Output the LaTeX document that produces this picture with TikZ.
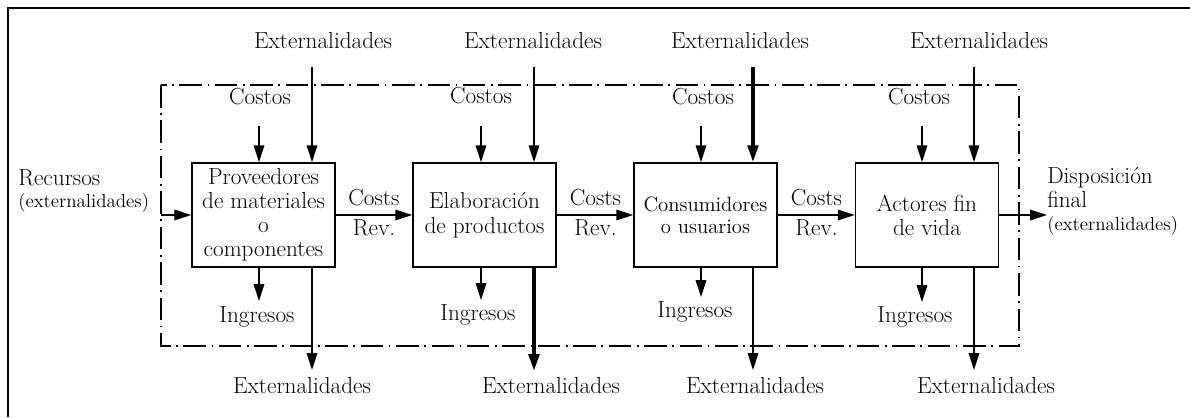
\documentclass[tikz,border=0pt]{standalone}
\usepackage{tikz}
\usetikzlibrary{arrows.meta}

\begin{document}
\begin{tikzpicture}[x=0.025cm, y=-0.025cm,
    txt/.style={font=\fontsize{16.5pt}{17pt}\selectfont, inner sep=0pt},
    small/.style={font=\fontsize{13.5pt}{15pt}\selectfont, inner sep=0pt},
    stage/.style={draw, line width=1.1pt, minimum width=3.575cm, minimum height=2.6cm, align=center, font=\fontsize{16.5pt}{17pt}\selectfont},
    arr/.style={-{Triangle[length=12pt,width=7.5pt]}, line width=1pt},
    heavy/.style={arr, line width=2.6pt}]
        \useasboundingbox (0,0) rectangle (1190,417);
        \draw [line width=1.4pt] (8,417) -- (8,8) -- (1190,8);
        \draw [line width=0.9pt, dash pattern=on 16pt off 4pt on 1.2pt off 4pt] (161,85) rectangle (1019,346);
        % the four stages
        \node (b1) at (263.5, 215) [stage] {Proveedores\\de materiales\\o\\componentes};
        \node (b2) at (484.5, 215) [stage, font=\fontsize{16.5pt}{18pt}\selectfont] {Elaboraci\'on\\de productos};
        \node (b3) at (705.5, 215) [stage, font=\fontsize{14.7pt}{15.5pt}\selectfont] {Consumidores\\o usuarios};
        \node (b4) at (927, 215) [stage] {Actores fin\\de vida};
        % labels above
        \node (et1) at (323, 48) [txt, anchor=base] {Externalidades};
        \node (et2) at (533, 48) [txt, anchor=base] {Externalidades};
        \node (et3) at (740, 48) [txt, anchor=base] {Externalidades};
        \node (et4) at (979, 48) [txt, anchor=base] {Externalidades};
        \node (c1) at (260, 104) [txt, anchor=base] {Costos};
        \node (c2) at (481, 103) [txt, anchor=base] {Costos};
        \node (c3) at (703, 104) [txt, anchor=base] {Costos};
        \node (c4) at (919, 104) [txt, anchor=base] {Costos};
        % labels below
        \node (i1) at (257, 322) [txt, anchor=base] {Ingresos};
        \node (i2) at (478, 320) [txt, anchor=base] {Ingresos};
        \node (i3) at (695, 317) [txt, anchor=base] {Ingresos};
        \node (i4) at (915, 322) [txt, anchor=base] {Ingresos};
        \node (eb1) at (302, 393) [txt, anchor=base] {Externalidades};
        \node (eb2) at (551, 393) [txt, anchor=base] {Externalidades};
        \node (eb3) at (755, 393) [txt, anchor=base] {Externalidades};
        \node (eb4) at (986, 393) [txt, anchor=base] {Externalidades};
        % flow labels
        \node (cr1) at (374, 205) [txt, anchor=base] {Costs};
        \node (rv1) at (374, 235) [txt, anchor=base] {Rev.};
        \node (cr2) at (595.5, 205) [txt, anchor=base] {Costs};
        \node (rv2) at (595.5, 235) [txt, anchor=base] {Rev.};
        \node (cr3) at (816.5, 205) [txt, anchor=base] {Costs};
        \node (rv3) at (816.5, 235) [txt, anchor=base] {Rev.};
        \node (rec) at (18, 185) [txt, anchor=base west] {Recursos};
        \node (recx) at (18, 207) [small, anchor=base west] {(externalidades)};
        \node (dis) at (1047, 183) [txt, anchor=base west] {Disposici\'on};
        \node (fin) at (1047, 207) [txt, anchor=base west] {final};
        \node (disx) at (1047, 230) [small, anchor=base west] {(externalidades)};
        % free ends
        \coordinate (rin) at (161, 215);
        \coordinate (dout) at (1047, 215);
        \coordinate (c1s) at (259, 126);
        \coordinate (c2s) at (481, 126);
        \coordinate (c3s) at (701, 126);
        \coordinate (c4s) at (922, 126);
        \coordinate (x1s) at (312, 67);
        \coordinate (x2s) at (534, 67);
        \coordinate (x3s) at (753, 67);
        \coordinate (x4s) at (974, 67);
        \coordinate (i1e) at (259, 301);
        \coordinate (i2e) at (481, 300);
        \coordinate (i3e) at (701, 297);
        \coordinate (i4e) at (922, 302);
        \coordinate (x1e) at (312, 370);
        \coordinate (x2e) at (534, 371);
        \coordinate (x3e) at (753, 370);
        \coordinate (x4e) at (974, 370);
        % main flow
        \draw [arr] (rin) -- (b1);
        \draw [arr] (b1) -- (b2);
        \draw [arr] (b2) -- (b3);
        \draw [arr] (b3) -- (b4);
        \draw [arr] (b4) -- (dout);
        % inputs
        \draw [arr] (c1s) -- (c1s |- b1.north);
        \draw [arr] (c2s) -- (c2s |- b2.north);
        \draw [arr] (c3s) -- (c3s |- b3.north);
        \draw [arr] (c4s) -- (c4s |- b4.north);
        \draw [arr] (x1s) -- (x1s |- b1.north);
        \draw [arr] (x2s) -- (x2s |- b2.north);
        \draw [heavy] (x3s) -- (x3s |- b3.north);
        \draw [arr] (x4s) -- (x4s |- b4.north);
        % outputs
        \draw [arr] (b1.south -| i1e) -- (i1e);
        \draw [arr] (b2.south -| i2e) -- (i2e);
        \draw [arr] (b3.south -| i3e) -- (i3e);
        \draw [arr] (b4.south -| i4e) -- (i4e);
        \draw [arr] (b1.south -| x1e) -- (x1e);
        \draw [heavy] (b2.south -| x2e) -- (x2e);
        \draw [arr] (b3.south -| x3e) -- (x3e);
        \draw [arr] (b4.south -| x4e) -- (x4e);
\end{tikzpicture}
\end{document}
